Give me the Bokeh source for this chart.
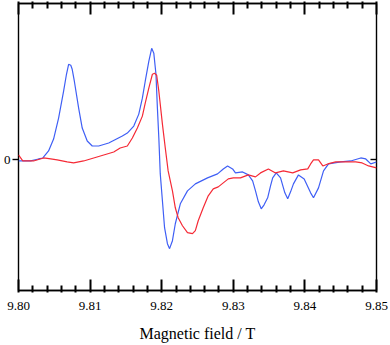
from bokeh.plotting import figure
from bokeh.models import Range1d, LinearAxis, FixedTicker
from bokeh.embed import file_html
from bokeh.resources import INLINE

# Magnetic field (T) and signal (arb. units)
blue_field = [9.8000, 9.8017, 9.8028, 9.8034, 9.8042, 9.8049, 9.8056, 9.8063, 9.8067, 9.8070,
              9.8073, 9.8075, 9.8078, 9.8084, 9.8089, 9.8096, 9.8103, 9.8112, 9.8126, 9.8145,
              9.8152, 9.8161, 9.8168, 9.8173, 9.8177, 9.8182, 9.8186, 9.8189, 9.8192, 9.8194,
              9.8196, 9.8198, 9.8201, 9.8204, 9.8208, 9.8211, 9.8215, 9.8219, 9.8226, 9.8236,
              9.8247, 9.8264, 9.8278, 9.8286, 9.8292, 9.8299, 9.8303, 9.8313, 9.8321, 9.8327,
              9.8331, 9.8335, 9.8339, 9.8343, 9.8348, 9.8352, 9.8355, 9.8360, 9.8366, 9.8372,
              9.8376, 9.8380, 9.8384, 9.8391, 9.8399, 9.8408, 9.8412, 9.8419, 9.8426, 9.8433,
              9.8450, 9.8464, 9.8478, 9.8485, 9.8492, 9.8500]
blue_signal = [-0.01, -0.01, 0.01, 0.02, 0.09, 0.21, 0.42, 0.69, 0.86, 0.96,
               0.95, 0.91, 0.79, 0.52, 0.32, 0.19, 0.14, 0.14, 0.17, 0.24,
               0.27, 0.34, 0.46, 0.62, 0.79, 0.99, 1.12, 1.07, 0.86, 0.52,
               0.22, -0.14, -0.41, -0.68, -0.84, -0.89, -0.81, -0.64, -0.44, -0.31,
               -0.24, -0.18, -0.14, -0.09, -0.06, -0.09, -0.13, -0.12, -0.15, -0.21,
               -0.31, -0.42, -0.49, -0.45, -0.38, -0.26, -0.18, -0.13, -0.18, -0.33,
               -0.39, -0.32, -0.24, -0.15, -0.19, -0.33, -0.38, -0.28, -0.11, -0.04,
               -0.02, -0.01, 0.02, 0.01, -0.04, -0.02]

red_field = [9.8000, 9.8003, 9.8006, 9.8021, 9.8035, 9.8045, 9.8054, 9.8068, 9.8077, 9.8091,
             9.8105, 9.8119, 9.8133, 9.8142, 9.8152, 9.8159, 9.8166, 9.8173, 9.8177, 9.8182,
             9.8187, 9.8190, 9.8193, 9.8196, 9.8201, 9.8205, 9.8209, 9.8215, 9.8219, 9.8223,
             9.8229, 9.8236, 9.8243, 9.8247, 9.8251, 9.8258, 9.8265, 9.8272, 9.8279, 9.8286,
             9.8293, 9.8300, 9.8310, 9.8321, 9.8331, 9.8338, 9.8349, 9.8359, 9.8370, 9.8383,
             9.8394, 9.8404, 9.8408, 9.8412, 9.8419, 9.8425, 9.8432, 9.8443, 9.8457, 9.8471,
             9.8480, 9.8489, 9.8500]
red_signal = [0.05, 0.02, -0.01, -0.01, 0.02, 0.01, 0.00, -0.02, -0.03, -0.01,
              0.02, 0.05, 0.08, 0.12, 0.14, 0.22, 0.32, 0.44, 0.57, 0.72,
              0.86, 0.87, 0.85, 0.69, 0.36, 0.12, -0.11, -0.31, -0.48, -0.58,
              -0.66, -0.73, -0.74, -0.71, -0.61, -0.48, -0.36, -0.29, -0.27, -0.23,
              -0.19, -0.18, -0.18, -0.15, -0.17, -0.13, -0.09, -0.13, -0.11, -0.13,
              -0.10, -0.09, -0.04, 0.00, 0.00, -0.06, -0.04, -0.02, -0.02, -0.02,
              -0.03, -0.06, -0.08]

x_major = [9.80, 9.81, 9.82, 9.83, 9.84, 9.85]
x_minor = [round(9.80 + 0.002 * i, 3) for i in range(26) if i % 5 != 0]
x_labels = {9.80: "9.80", 9.81: "9.81", 9.82: "9.82", 9.83: "9.83", 9.84: "9.84", 9.85: "9.85"}
y_ticks = [0]

FONT = "Liberation Serif"

p = figure(width=390, height=345, output_backend="svg", toolbar_location=None,
           x_range=Range1d(9.80, 9.85), y_range=Range1d(-1.31, 1.57),
           x_axis_location=None, y_axis_location=None,
           min_border_left=18, min_border_right=14, min_border_top=3, min_border_bottom=55)
p.grid.visible = False
p.outline_line_color = "black"
p.outline_line_width = 1.4

def make_x_axis(loc, with_labels):
    ax = LinearAxis(ticker=FixedTicker(ticks=x_major, minor_ticks=x_minor))
    ax.axis_line_color = "black"
    ax.axis_line_width = 1.4
    ax.major_tick_line_color = "black"
    ax.minor_tick_line_color = "black"
    ax.major_tick_line_width = 2
    ax.minor_tick_line_width = 2
    ax.major_tick_in = 11
    ax.major_tick_out = 2
    ax.minor_tick_in = 5
    ax.minor_tick_out = 2
    if with_labels:
        ax.major_label_overrides = x_labels
        ax.major_label_text_font = FONT
        ax.major_label_text_font_size = "13px"
        ax.major_label_text_color = "black"
        ax.major_label_standoff = 9
        ax.axis_label = "Magnetic field / T"
        ax.axis_label_text_font = FONT
        ax.axis_label_text_font_size = "16px"
        ax.axis_label_text_font_style = "normal"
        ax.axis_label_text_color = "black"
        ax.axis_label_standoff = 12
    else:
        ax.major_label_text_color = None
        ax.major_label_text_font_size = "1px"
        ax.major_label_standoff = 0
    p.add_layout(ax, loc)

make_x_axis("below", True)
make_x_axis("above", False)

left = LinearAxis(ticker=FixedTicker(ticks=y_ticks, minor_ticks=[]))
left.axis_line_color = None
left.major_tick_in = 0
left.major_tick_out = 6
left.major_tick_line_width = 1.4
left.major_label_text_font = FONT
left.major_label_text_font_size = "13px"
left.major_label_text_color = "black"
left.major_label_standoff = 2
p.add_layout(left, "left")

right = LinearAxis(ticker=FixedTicker(ticks=y_ticks, minor_ticks=[]))
right.axis_line_color = None
right.major_tick_in = 6
right.major_tick_out = 0
right.major_tick_line_width = 1.4
right.major_label_overrides = {0: ""}
right.major_label_standoff = 0
p.add_layout(right, "right")

p.line(blue_field, blue_signal, line_color="#3f5ff5", line_width=1.2)
p.line(red_field, red_signal, line_color="#f52a36", line_width=1.2)

open("out.html", "w").write(file_html(p, INLINE))
